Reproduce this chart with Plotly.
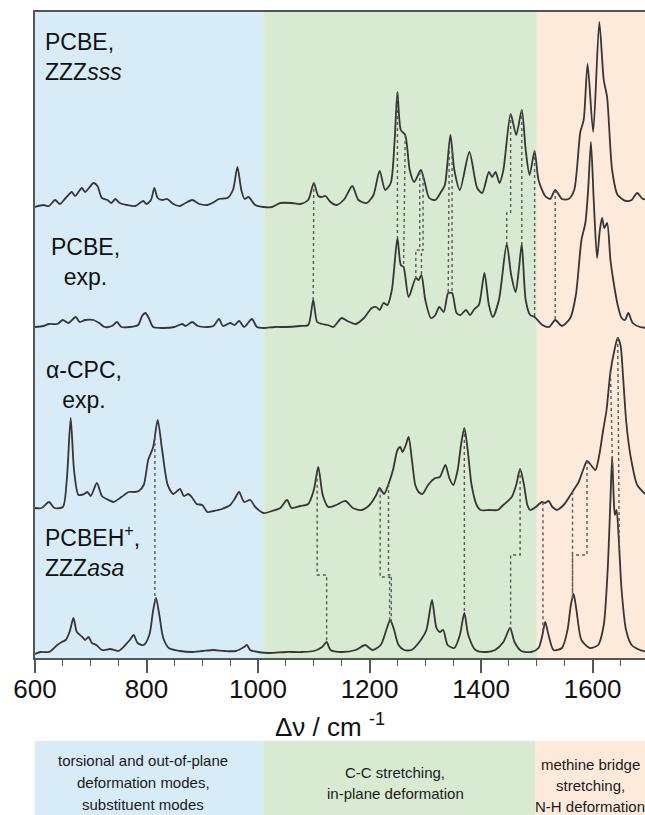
import numpy as np
import plotly.graph_objects as go

# ---------------- data (wavenumber / cm-1, intensity above own baseline, arb. units) -------------
zzzsss_x = [600, 615, 625, 636, 645, 655, 666, 672, 684, 690, 705, 712, 720, 730, 737, 744, 752, 765, 780,
            794, 800, 808, 814, 820, 828, 837, 848, 860, 870, 882, 895, 909, 918, 930, 945, 955, 963, 970,
            976, 983, 995, 1010, 1025, 1040, 1060, 1076, 1090, 1100, 1108, 1114, 1121, 1130, 1141, 1155,
            1169, 1180, 1195, 1207, 1218, 1228, 1238, 1245, 1250, 1256, 1264, 1272, 1280, 1292, 1298, 1307,
            1318, 1328, 1335, 1345, 1352, 1362, 1379, 1393, 1402, 1414, 1420, 1426, 1433, 1440, 1453, 1463,
            1473, 1480, 1487, 1496, 1503, 1515, 1524, 1533, 1545, 1557, 1567, 1578, 1584, 1591, 1601, 1612,
            1620, 1626, 1635, 1645, 1660, 1670, 1680, 1690, 1700]
zzzsss_y = [0, 2, 1, 7, 3, 9, 15, 11, 19, 15, 24, 21, 9, 7, 4, 8, 4, 2, 1,
            6, 3, 7, 19, 9, 7, 8, 3, 1, 4, 7, 3, 2, 4, 8, 9, 17, 40, 17,
            8, 10, 2, 0, 0, 4, 4, 3, 7, 24, 11, 10, 11, 5, 2, 8,
            21, 7, 4, 12, 36, 17, 24, 67, 115, 77, 72, 37, 25, 37, 27, 9,
            7, 15, 22, 72, 37, 17, 55, 19, 14, 35, 30, 35, 24, 37, 93, 72,
            97, 57, 32, 56, 27, 11, 8, 17, 8, 8, 17, 75, 87, 143, 75, 185,
            127, 110, 37, 12, 6, 7, 14, 8, 8]

pcbe_exp_x = [600, 615, 625, 640, 650, 660, 673, 680, 690, 705, 715, 725, 738, 747, 755, 770, 785, 792, 798,
              804, 812, 830, 850, 864, 870, 882, 892, 910, 920, 930, 937, 950, 958, 966, 975, 989, 998, 1010,
              1030, 1050, 1075, 1090, 1099, 1106, 1115, 1125, 1135, 1150, 1160, 1175, 1190, 1204, 1212, 1218,
              1225, 1232, 1240, 1250, 1256, 1261, 1270, 1283, 1288, 1293, 1300, 1310, 1318, 1325, 1333, 1341,
              1348, 1356, 1363, 1373, 1380, 1388, 1396, 1406, 1414, 1421, 1432, 1446, 1454, 1462, 1468, 1473,
              1480, 1488, 1496, 1510, 1522, 1533, 1545, 1560, 1570, 1580, 1587, 1592, 1597, 1602, 1608, 1613,
              1617, 1621, 1626, 1632, 1637, 1645, 1652, 1658, 1664, 1672, 1685, 1700]
pcbe_exp_y = [1, 2, 4, 4, 8, 5, 11, 6, 8, 8, 5, 1, 2, 6, 1, 1, 3, 12, 15,
              10, 1, 0, 1, 4, 2, 6, 2, 1, 2, 9, 2, 5, 3, 7, 1, 9, 1, 0,
              1, 1, 2, 3, 28, 6, 4, 3, 1, 10, 7, 4, 10, 20, 21, 18,
              25, 23, 38, 90, 63, 61, 31, 50, 48, 53, 28, 10, 13, 21, 16, 35,
              35, 15, 13, 18, 13, 19, 23, 55, 23, 11, 28, 84, 53, 36, 60, 84,
              28, 13, 11, 3, 1, 8, 2, 10, 33, 88, 105, 138, 186, 128, 70, 98,
              110, 100, 105, 68, 48, 23, 10, 8, 15, 5, 1, 0]

cpc_exp_x = [600, 612, 625, 635, 650, 657, 664, 670, 678, 688, 694, 700, 711, 720, 732, 741, 755, 768, 778,
             786, 795, 803, 812, 820, 828, 838, 848, 860, 867, 875, 881, 890, 900, 909, 920, 935, 950, 958,
             966, 975, 986, 995, 1010, 1025, 1040, 1052, 1060, 1076, 1090, 1100, 1108, 1116, 1126, 1140, 1157,
             1170, 1186, 1200, 1212, 1218, 1226, 1234, 1242, 1250, 1255, 1259, 1265, 1270, 1276, 1282, 1288,
             1295, 1305, 1318, 1326, 1336, 1343, 1350, 1358, 1364, 1370, 1376, 1383, 1392, 1399, 1415, 1430,
             1440, 1455, 1463, 1470, 1477, 1483, 1488, 1498, 1509, 1515, 1521, 1528, 1536, 1548, 1558, 1566,
             1575, 1583, 1590, 1597, 1605, 1612, 1619, 1625, 1632, 1640, 1645, 1650, 1655, 1660, 1665, 1670,
             1680, 1700]
cpc_exp_y = [2, 2, 8, 2, 3, 30, 92, 40, 15, 16, 18, 14, 27, 14, 10, 8, 13, 18, 18,
             19, 25, 50, 63, 90, 60, 25, 16, 21, 14, 16, 13, 6, 5, -2, -1, 1, 5, 11,
             18, 8, 10, 3, -3, -1, 2, 10, 2, 4, 6, 20, 43, 15, 3, 5, 9,
             2, 0, 5, 15, 22, 16, 26, 40, 60, 63, 58, 65, 73, 50, 25, 18,
             16, 25, 32, 33, 45, 32, 25, 40, 65, 82, 60, 25, 5, 0, 0, 0,
             5, 13, 25, 41, 25, 5, 0, 3, 8, 7, 9, 3, 0, 5, 13, 20,
             28, 40, 49, 45, 40, 55, 80, 100, 138, 162, 172, 165, 130, 90, 65, 48,
             25, 13]

pcbeh_x = [600, 610, 625, 640, 648, 655, 662, 669, 675, 685, 690, 696, 702, 710, 720, 735, 750, 762, 770,
           777, 784, 795, 805, 812, 817, 823, 830, 840, 860, 880, 900, 920, 940, 960, 975, 980, 986, 1000,
           1020, 1050, 1080, 1100, 1115, 1123, 1130, 1150, 1175, 1192, 1205, 1220, 1230, 1237, 1243, 1252,
           1262, 1275, 1292, 1302, 1312, 1320, 1326, 1332, 1340, 1352, 1362, 1370, 1377, 1390, 1410, 1425,
           1440, 1452, 1460, 1472, 1490, 1503, 1510, 1515, 1521, 1530, 1545, 1555, 1561, 1566, 1571, 1580,
           1595, 1610, 1620, 1627, 1632, 1635, 1638, 1640, 1643, 1647, 1652, 1660, 1670, 1685, 1700]
pcbeh_y = [-1, 1, 1, 8, 11, 13, 21, 35, 21, 16, 13, 16, 10, 8, 3, 4, 2, 8, 13,
           18, 10, 8, 18, 43, 55, 38, 15, 5, 2, 1, 2, 3, 2, 2, 6, 8, 3, 1,
           0, 1, 1, 2, 6, 11, 3, 1, 3, 8, 3, 8, 23, 33, 25, 8,
           3, 3, 13, 23, 53, 25, 21, 23, 8, 5, 18, 40, 18, 3, 1, 3,
           11, 25, 11, 2, 1, 5, 18, 31, 18, 3, 5, 23, 48, 59, 43, 13,
           5, 8, 28, 83, 153, 196, 153, 138, 143, 113, 63, 23, 8, 3, 1]

spectrum_names = ["PCBE, ZZZsss", "PCBE, exp.", "α-CPC, exp.", "PCBEH+, ZZZasa"]

# band assignment regions (cm-1)
region_edges = [600, 1011, 1500, 1700]
region_labels = [["torsional and out-of-plane", "deformation modes,", "substituent modes"],
                 ["C-C stretching,", "in-plane deformation"],
                 ["methine bridge", "stretching,", "N-H deformation"]]

# peak correlations: (wavenumber in upper trace, wavenumber in lower trace)
s12_top_x = [1100, 1250, 1264, 1290, 1296, 1343, 1348, 1453, 1473, 1496, 1533]
s12_bot_x = [1099, 1250, 1261, 1283, 1293, 1341, 1348, 1446, 1473, 1496, 1533]
s34_top_x = [815, 1106, 1219, 1234, 1370, 1470, 1511, 1564, 1590, 1632, 1645]
s34_bot_x = [815, 1123, 1236, 1239, 1370, 1453, 1511, 1564, 1564, 1636, 1648]

tick_values = [600, 800, 1000, 1200, 1400, 1600]

# ---------------- layout constants ----------------
W, H = 645, 815
ML, MT, MB = 35, 12, 157
PW, PH = W - ML, H - MT - MB       # 610 x 646
offsets = [451, 330, 148, 5]       # vertical stacking offsets
s12_step = [None, None, None, 408, 408, None, None, 445, None, None, None]
s34_step = [None, 83, 81, 83, None, 103, None, None, 103, None, None]

LINE = "#363636"
DOT = "#5a5a5a"
C_BLUE = "#d8ecf8"
C_GREEN = "#d9ead3"
C_ORANGE = "#fdeadb"
FONT = "Liberation Sans, Arial, sans-serif"


def px_x(p):
    return (p - ML) / PW


def px_y(p):
    return (H - MB - p) / PH


fig = go.Figure()

spectra = [(zzzsss_x, zzzsss_y), (pcbe_exp_x, pcbe_exp_y), (cpc_exp_x, cpc_exp_y), (pcbeh_x, pcbeh_y)]
for (sx, sy), off, name in zip(spectra, offsets, spectrum_names):
    fig.add_trace(go.Scatter(x=sx, y=np.array(sy) + off, mode="lines", name=name,
                             line=dict(color=LINE, width=1.8, shape="spline", smoothing=0.7),
                             hoverinfo="skip"))


def connectors(top_i, bot_i, tops, bots, steps):
    xs, ys = [], []
    tx_s, ty_s = spectra[top_i]
    bx_s, by_s = spectra[bot_i]
    for tx, bx, st in zip(tops, bots, steps):
        ty = offsets[top_i] + float(np.interp(tx, tx_s, ty_s))
        by = offsets[bot_i] + float(np.interp(bx, bx_s, by_s))
        if st is None:
            xs += [tx, bx, None]
            ys += [ty, by, None]
        else:
            xs += [tx, tx, bx, bx, None]
            ys += [ty, st, st, by, None]
    return xs, ys


for args in [(0, 1, s12_top_x, s12_bot_x, s12_step), (2, 3, s34_top_x, s34_bot_x, s34_step)]:
    cx, cy = connectors(*args)
    fig.add_trace(go.Scatter(x=cx, y=cy, mode="lines", line=dict(color=DOT, width=1.4, dash="dot"),
                             hoverinfo="skip", showlegend=False))

# background regions
shapes = []
for (a, b), col in zip(zip(region_edges[:-1], region_edges[1:]), [C_BLUE, C_GREEN, C_ORANGE]):
    shapes.append(dict(type="rect", xref="x", yref="paper", x0=a, x1=b, y0=0, y1=1,
                       fillcolor=col, line=dict(width=0), layer="below"))
# legend boxes below the axis
box_px = [(35, 264), (264, 535), (535, 646)]
for (a, b), col in zip(box_px, [C_BLUE, C_GREEN, C_ORANGE]):
    shapes.append(dict(type="rect", xref="paper", yref="paper", x0=px_x(a), x1=px_x(b),
                       y0=px_y(741), y1=px_y(816), fillcolor=col, line=dict(width=0), layer="below"))

ann = []
lab = dict(xref="paper", yref="paper", showarrow=False, font=dict(family=FONT, size=23, color="#111"))
ann.append(dict(lab, x=px_x(43), y=px_y(57), xanchor="left", yanchor="middle", align="left",
                text="PCBE,<br>ZZZ<i>sss</i>"))
ann.append(dict(lab, x=px_x(85), y=px_y(262), xanchor="center", yanchor="middle", align="center",
                text="PCBE,<br>exp."))
ann.append(dict(lab, x=px_x(84), y=px_y(385), xanchor="center", yanchor="middle", align="center",
                text="α-CPC,<br>exp."))
ann.append(dict(lab, x=px_x(43), y=px_y(551), xanchor="left", yanchor="middle", align="left",
                text="PCBEH<sup>+</sup>,<br>ZZZ<i>asa</i>"))
ann.append(dict(lab, x=px_x(330), y=px_y(725), xanchor="center", yanchor="middle",
                text="Δν / cm <sup>-1</sup>", font=dict(family=FONT, size=26, color="#111")))

box_centers = [143, 395, 590]
box_line_py = [[760, 782, 804], [772, 793], [764, 785, 806]]
for cxp, lines, pys in zip(box_centers, region_labels, box_line_py):
    for t, py in zip(lines, pys):
        ann.append(dict(xref="paper", yref="paper", showarrow=False, xanchor="center", yanchor="middle",
                        x=px_x(cxp), y=px_y(py), text=t,
                        font=dict(family=FONT, size=15, color="#1a1a1a")))

fig.update_layout(
    width=W, height=H, margin=dict(l=ML, r=0, t=MT, b=MB),
    paper_bgcolor="white", plot_bgcolor="white", showlegend=False,
    shapes=shapes, annotations=ann,
    xaxis=dict(range=[600, 600 + PW / 0.5576], tickvals=tick_values,
               ticks="outside", ticklen=13, tickwidth=1.5, tickcolor="#555",
               minor=dict(dtick=50, ticks="outside", ticklen=6, tickwidth=1.3, tickcolor="#555"),
               showline=True, linecolor="#555", linewidth=1.5, mirror=True, showgrid=False,
               zeroline=False, tickfont=dict(family=FONT, size=26, color="#111"), ticklabelstandoff=-6),
    yaxis=dict(range=[0, PH], showticklabels=False, ticks="", showgrid=False, zeroline=False,
               showline=True, linecolor="#555", linewidth=1.5, mirror=False),
)

fig.write_html("out.html", config={"displayModeBar": False},
               post_script="document.body.style.margin='0px';")
